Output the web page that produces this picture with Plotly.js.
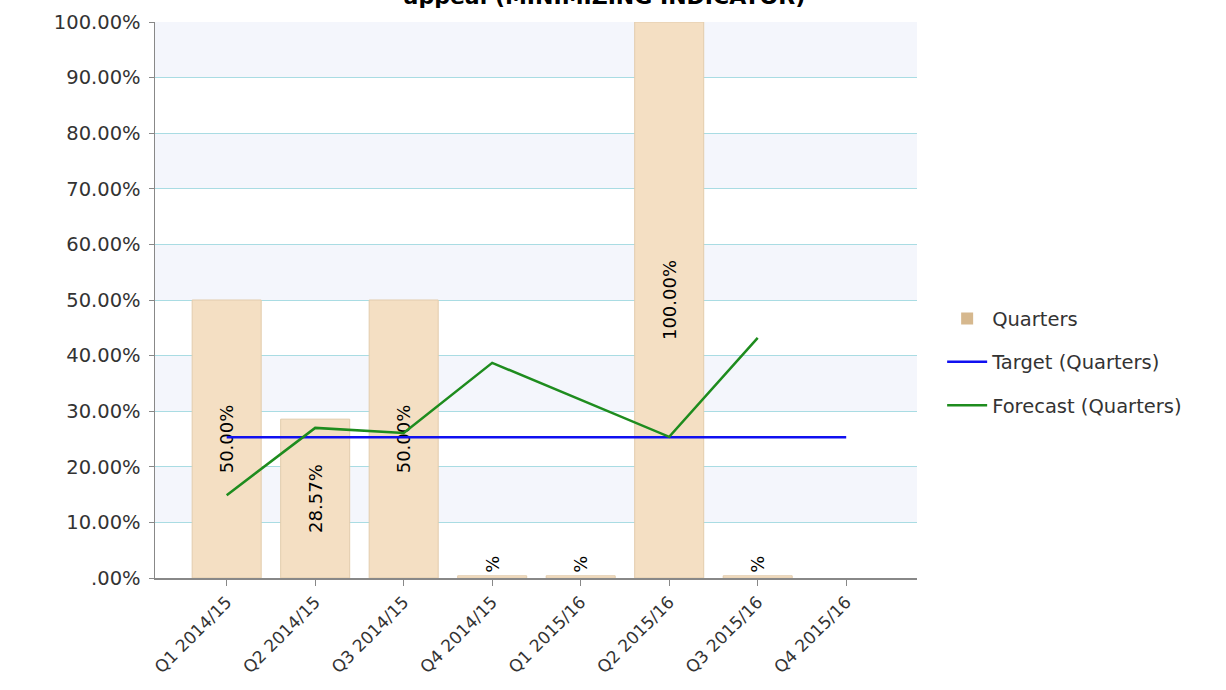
<!DOCTYPE html>
<html>
<head>
<meta charset="utf-8">
<script src="https://cdn.plot.ly/plotly-3.0.1.min.js"></script>
<style>
html,body{margin:0;padding:0;background:#fff;}
#chart{width:1226px;height:690px;}
</style>
</head>
<body>
<div id="chart"></div>
<script>
const categories = ["Q1 2014/15","Q2 2014/15","Q3 2014/15","Q4 2014/15","Q1 2015/16","Q2 2015/16","Q3 2015/16","Q4 2015/16"];
const quarterValues = [50, 28.57, 50, 0.4, 0.4, 100, 0.4, null];
const quarterLabels = ["50.00%","28.57%","50.00%","%","%","100.00%","%",""];
const targetValues = [25.3, 25.3, 25.3, 25.3, 25.3, 25.3, 25.3, 25.3];
const forecastValues = [14.9, 27.0, 26.1, 38.7, null, 25.4, 43.2, null];
const yTickValues = [0,10,20,30,40,50,60,70,80,90,100];
const yTickLabels = [".00%","10.00%","20.00%","30.00%","40.00%","50.00%","60.00%","70.00%","80.00%","90.00%","100.00%"];
const titleText = "appeal (MINIMIZING INDICATOR)";

const FONT = "DejaVu Sans, Verdana, sans-serif";

const bandShapes = [];
for (let i = 1; i < yTickValues.length; i += 2) {
  bandShapes.push({type:"rect", xref:"paper", yref:"y", x0:0, x1:1,
    y0:yTickValues[i], y1:yTickValues[i+1], fillcolor:"#F4F6FC", line:{width:0}, layer:"below"});
}

const textPos = quarterLabels.map(function(t, i){ return (quarterValues[i] !== null && quarterValues[i] > 5) ? "inside" : "outside"; });

const traces = [
  {type:"bar", x:categories, y:quarterValues, name:"Quarters", showlegend:false,
   text:quarterLabels, textposition:textPos, textangle:-90, insidetextanchor:"middle",
   textfont:{family:FONT, size:18, color:"#000"}, cliponaxis:false,
   marker:{color:"#F4DFC3", line:{color:"#E2CCAD", width:1}}, width:0.78, hoverinfo:"x+y"},
  {type:"bar", x:[null], y:[null], name:"Quarters", legendgroup:"a", marker:{color:"#D6B88E"}},
  {type:"scatter", mode:"lines", x:categories, y:targetValues, name:"Target (Quarters)", legendgroup:"b",
   line:{color:"#1010F0", width:2.5}},
  {type:"scatter", mode:"lines", x:categories, y:forecastValues, name:"Forecast (Quarters)", legendgroup:"c",
   connectgaps:true, line:{color:"#1E8C1E", width:2.5}}
];

const layout = {
  width:1226, height:690,
  margin:{l:155, r:309, t:22, b:112},
  paper_bgcolor:"#fff", plot_bgcolor:"#fff",
  font:{family:FONT, color:"#333", size:17},
  title:{text:"<b>"+titleText+"</b>", font:{family:FONT, size:22, color:"#000"},
         x:0.493, xanchor:"center", xref:"container", y:1, yref:"paper", yanchor:"bottom", pad:{b:18}},
  barmode:"overlay",
  showlegend:true,
  legend:{x:1.033, xanchor:"left", y:0.388, yanchor:"middle", font:{family:FONT, size:19.5, color:"#333"},
          bgcolor:"rgba(0,0,0,0)", traceorder:"grouped", tracegroupgap:15, itemwidth:40},
  xaxis:{type:"category", range:[-0.81, 7.8], showgrid:false, showline:true, linecolor:"#888", linewidth:1.5,
         ticks:"outside", ticklen:6, tickcolor:"#888", tickangle:-45,
         tickfont:{family:FONT, size:17, color:"#333"}, zeroline:false, fixedrange:true},
  yaxis:{range:[0,100], tickvals:yTickValues, ticktext:yTickLabels, showgrid:true, gridcolor:"#A9DCE3", gridwidth:1,
         showline:true, linecolor:"#888", linewidth:1.5, ticks:"outside", ticklen:5, tickcolor:"#888",
         ticklabelstandoff:4,
         tickfont:{family:FONT, size:19.5, color:"#333"}, zeroline:false, fixedrange:true},
  shapes:bandShapes
};

Plotly.newPlot("chart", traces, layout, {displayModeBar:false, staticPlot:true});
</script>
</body>
</html>
